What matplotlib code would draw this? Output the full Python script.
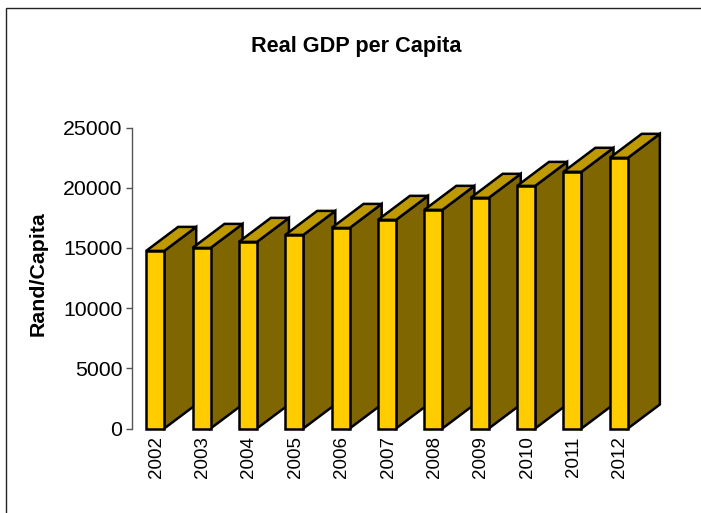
import matplotlib
matplotlib.use("Agg")
import matplotlib.pyplot as plt
from matplotlib.patches import Polygon, Rectangle
from matplotlib.transforms import ScaledTranslation

years = ["2002", "2003", "2004", "2005", "2006", "2007", "2008", "2009", "2010", "2011", "2012"]
gdp = [14750, 15000, 15500, 16080, 16660, 17330, 18160, 19160, 20150, 21320, 22480]
y_ticks = [0, 5000, 10000, 15000, 20000, 25000]

W, H = 701, 513
plt.rcParams["font.family"] = ["Liberation Sans", "DejaVu Sans"]

fig = plt.figure(figsize=(W / 100, H / 100), dpi=100)
fig.add_artist(Rectangle((6 / W, -0.01), 1, 1.01 - 8 / H, transform=fig.transFigure,
                         fc="none", ec="#222222", lw=1))

ax = fig.add_axes([132 / W, 1 - 428.5 / H, 510 / W, 301 / H])
ax.set_xlim(-0.5, 10.5)
ax.set_ylim(0, 25000)
ax.patch.set_alpha(0)

bar_w = 0.39
depth_x = 0.69
depth_y = 1995

for i, v in enumerate(gdp):
    x0 = i - bar_w / 2
    x1 = i + bar_w / 2
    top = [(x0, v), (x1, v), (x1 + depth_x, v + depth_y), (x0 + depth_x, v + depth_y)]
    side = [(x1, 0), (x1 + depth_x, depth_y), (x1 + depth_x, v + depth_y), (x1, v)]
    z = 3 + i
    ax.add_patch(Polygon(side, closed=True, fc="#806600", ec="black", lw=1.8, joinstyle="miter", clip_on=False, zorder=z))
    ax.add_patch(Polygon(top, closed=True, fc="#BF9900", ec="black", lw=1.8, joinstyle="miter", clip_on=False, zorder=z))
    ax.bar(i, v, width=bar_w, color="#FFCC00", edgecolor="black", linewidth=1.8, clip_on=False, zorder=z)

for s in ["top", "right", "bottom"]:
    ax.spines[s].set_visible(False)
ax.spines["left"].set_color("#555555")
ax.spines["left"].set_linewidth(1)

ax.set_yticks(y_ticks)
ax.tick_params(axis="y", labelsize=15.3, length=4.5, width=1, color="#555555", pad=2.5)
ax.set_xticks(range(len(years)))
ax.set_xticklabels(years, rotation=90, fontsize=13.5)
ax.tick_params(axis="x", length=0, pad=5.5)
for label in ax.get_xticklabels():
    label.set_transform(label.get_transform() + ScaledTranslation(1 / 100, 0, fig.dpi_scale_trans))

ax.set_ylabel("Rand/Capita", fontsize=15.4, fontweight="bold")
ax.yaxis.set_label_coords(-0.1664, 0.514)
fig.text(356 / W, 1 - 47 / H, "Real GDP per Capita", fontsize=15.6, fontweight="bold", ha="center", va="center")

fig.savefig("out.png", dpi=100)
